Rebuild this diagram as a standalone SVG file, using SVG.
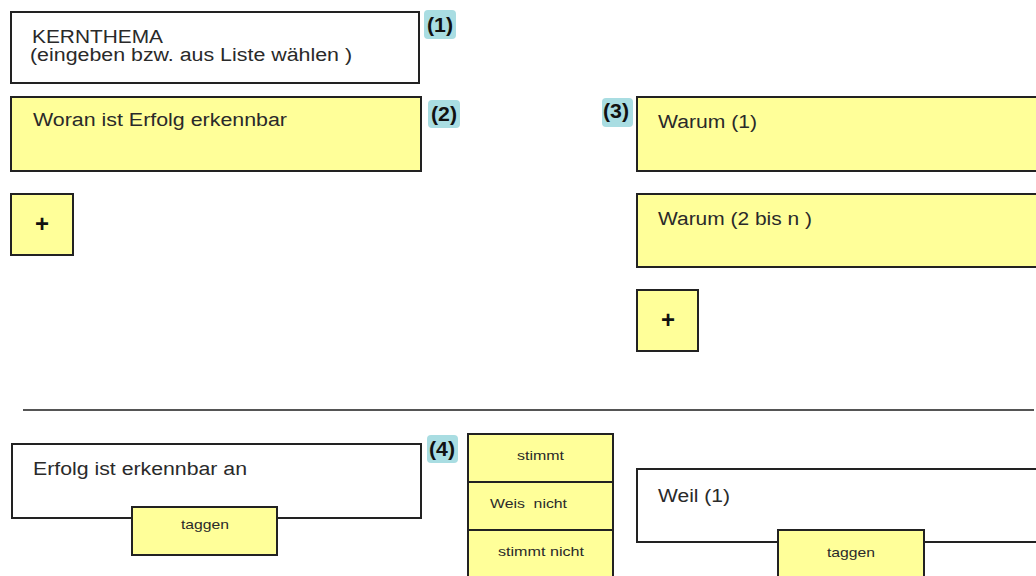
<svg xmlns="http://www.w3.org/2000/svg" width="1036" height="576" viewBox="0 0 1036 576">
  <style>
    .box { stroke: #222; stroke-width: 2; }
    .white { fill: #ffffff; }
    .yellow { fill: #ffff99; }
    .txt { font-family: "Liberation Sans", Arial, sans-serif; fill: #2a2a2a; }
    .big { font-size: 18px; }
    .small { font-size: 13px; }
    .plus { font-family: "Liberation Sans", Arial, sans-serif; font-size: 24px; font-weight: bold; fill: #111; text-anchor: middle; }
    .badge rect { fill: #a9dde2; }
    .badge text { font-family: "Liberation Sans", Arial, sans-serif; font-size: 20px; font-weight: bold; fill: #111; }
  </style>

  <rect width="1036" height="576" fill="#ffffff"/>

  <!-- top section -->
  <g id="kernthema">
    <rect class="box white" x="11" y="12" width="408" height="71"/>
    <text class="txt big" x="32" y="43" textLength="131" lengthAdjust="spacingAndGlyphs">KERNTHEMA</text>
    <text class="txt big" x="30" y="61" textLength="322" lengthAdjust="spacingAndGlyphs">(eingeben bzw. aus Liste wählen )</text>
  </g>
  <g id="badge1" class="badge">
    <rect x="424" y="10" width="32" height="29" rx="4"/>
    <text x="427" y="32" textLength="26" lengthAdjust="spacingAndGlyphs">(1)</text>
  </g>

  <g id="woran">
    <rect class="box yellow" x="11" y="97" width="410" height="74"/>
    <text class="txt big" x="33" y="126" textLength="254" lengthAdjust="spacingAndGlyphs">Woran ist Erfolg erkennbar</text>
  </g>
  <g id="badge2" class="badge">
    <rect x="428" y="100" width="32" height="28" rx="4"/>
    <text x="431" y="121" textLength="26" lengthAdjust="spacingAndGlyphs">(2)</text>
  </g>
  <g id="plus-left">
    <rect class="box yellow" x="11" y="194" width="62" height="61"/>
    <text class="plus" x="42" y="232">+</text>
  </g>

  <g id="badge3" class="badge">
    <rect x="602" y="98" width="31" height="29" rx="4"/>
    <text x="603" y="118" textLength="26" lengthAdjust="spacingAndGlyphs">(3)</text>
  </g>
  <g id="warum1">
    <rect class="box yellow" x="637" y="97" width="410" height="74"/>
    <text class="txt big" x="658" y="128" textLength="99" lengthAdjust="spacingAndGlyphs">Warum (1)</text>
  </g>
  <g id="warum2">
    <rect class="box yellow" x="637" y="194" width="410" height="73"/>
    <text class="txt big" x="658" y="225" textLength="154" lengthAdjust="spacingAndGlyphs">Warum (2 bis n )</text>
  </g>
  <g id="plus-right">
    <rect class="box yellow" x="637" y="290" width="61" height="61"/>
    <text class="plus" x="668" y="328">+</text>
  </g>

  <!-- separator -->
  <g id="connectors">
    <line x1="23" y1="410" x2="1034" y2="410" stroke="#555" stroke-width="2"/>
  </g>

  <!-- bottom section -->
  <g id="erfolg">
    <rect class="box white" x="12" y="444" width="409" height="74"/>
    <text class="txt big" x="33" y="475" textLength="214" lengthAdjust="spacingAndGlyphs">Erfolg ist erkennbar an</text>
  </g>
  <g id="taggen-left">
    <rect class="box yellow" x="132" y="507" width="145" height="48"/>
    <text class="txt small" x="181" y="529" textLength="48" lengthAdjust="spacingAndGlyphs">taggen</text>
  </g>
  <g id="badge4" class="badge">
    <rect x="427" y="435" width="31" height="28" rx="4"/>
    <text x="429" y="456" textLength="26" lengthAdjust="spacingAndGlyphs">(4)</text>
  </g>

  <g id="bewertung">
    <rect class="box yellow" x="468" y="434" width="145" height="48"/>
    <rect class="box yellow" x="468" y="482" width="145" height="48"/>
    <rect class="box yellow" x="468" y="530" width="145" height="60"/>
    <text class="txt small" x="517" y="460" textLength="47" lengthAdjust="spacingAndGlyphs">stimmt</text>
    <text class="txt small" x="490" y="508" textLength="77" lengthAdjust="spacingAndGlyphs" xml:space="preserve">Weis  nicht</text>
    <text class="txt small" x="498" y="556" textLength="86" lengthAdjust="spacingAndGlyphs">stimmt nicht</text>
  </g>

  <g id="weil1">
    <rect class="box white" x="637" y="469" width="410" height="73"/>
    <text class="txt big" x="658" y="502" textLength="72" lengthAdjust="spacingAndGlyphs">Weil (1)</text>
  </g>
  <g id="taggen-right">
    <rect class="box yellow" x="778" y="530" width="146" height="60"/>
    <text class="txt small" x="827" y="557" textLength="48" lengthAdjust="spacingAndGlyphs">taggen</text>
  </g>
</svg>
